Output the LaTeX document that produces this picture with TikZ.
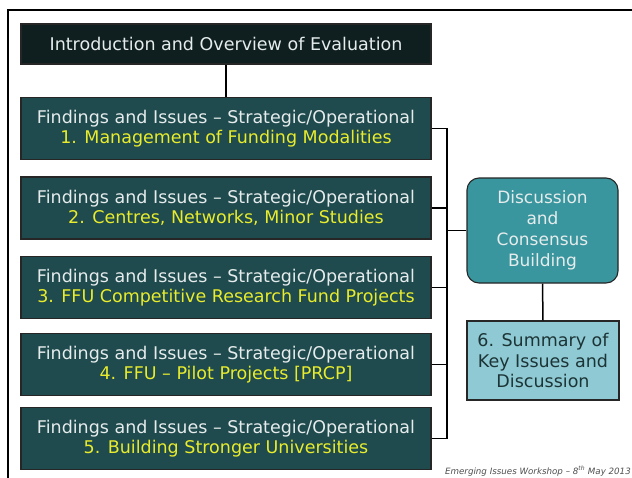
\documentclass[tikz,border=0pt]{standalone}
\usepackage{fontspec}
\setmainfont{DejaVu Sans}
\definecolor{introfill}{HTML}{0F1F20}
\definecolor{boxfill}{HTML}{1F4A4E}
\definecolor{discfill}{HTML}{3A969E}
\definecolor{sumfill}{HTML}{8FCAD4}
\definecolor{whitetext}{HTML}{E6ECEC}
\definecolor{yellowtext}{HTML}{E8EC2C}
\definecolor{sumtext}{HTML}{1C3436}
\definecolor{foot}{HTML}{505050}
\tikzset{
  darkbox/.style={draw=black!85, line width=1.1pt, fill=boxfill, minimum width=410pt, inner sep=0pt, align=center, text=whitetext, font=\fontsize{17.5}{20.5}\selectfont},
  introbox/.style={darkbox, fill=introfill, minimum height=40pt},
  findbox/.style={darkbox, minimum height=62pt},
  discbox/.style={draw=black!85, line width=1.1pt, fill=discfill, rounded corners=12pt, minimum width=151pt, minimum height=105pt, inner sep=0pt, align=center, text=whitetext, font=\fontsize{17}{21}\selectfont},
  sumbox/.style={draw=black!85, line width=1.1pt, fill=sumfill, minimum width=152pt, minimum height=79pt, inner sep=0pt, align=center, text=sumtext, font=\fontsize{17.5}{20.5}\selectfont},
  link/.style={draw=black, line width=1.5pt},
  frameline/.style={draw=black, line width=1.3pt},
}
\newcommand{\findtxt}[1]{Findings and Issues -- Strategic/Operational\\\textcolor{yellowtext}{#1}}
\begin{document}
\begin{tikzpicture}[x=1pt,y=-1pt]
\useasboundingbox (0,0) rectangle (632,477);
\fill[white] (0,0) rectangle (632,477);
\coordinate (fc) at (8,10);
\coordinate (fr) at (633,10);
\coordinate (fb) at (8,478);
\draw[frameline] (fr) -- (fc) -- (fb);
\node[introbox] (intro) at (226,44) {Introduction and Overview of Evaluation};
\node[findbox] (b1) at (226,128.5) {\findtxt{1. Management of Funding Modalities}};
\node[findbox] (b2) at (226,208) {\findtxt{2. Centres, Networks, Minor Studies}};
\node[findbox] (b3) at (226,287.5) {\findtxt{3. FFU Competitive Research Fund Projects}};
\node[findbox] (b4) at (226,364.5) {\findtxt{4. FFU -- Pilot Projects [PRCP]}};
\node[findbox] (b5) at (226,438.5) {\findtxt{5. Building Stronger Universities}};
\node[discbox] (disc) at (542.5,230.5) {Discussion\\and\\Consensus\\Building};
\node[sumbox] (sum) at (543,360.5) {6. Summary of\\Key Issues and\\Discussion};
\coordinate (bx) at (447,0);
\draw[link] (intro.south) -- (b1.north);
\draw[link] (b1.east) -- (b1.east -| bx) -- (b5.east -| bx) -- (b5.east);
\draw[link] (b2.east) -- (b2.east -| bx);
\draw[link] (b3.east) -- (b3.east -| bx);
\draw[link] (b4.east) -- (b4.east -| bx);
\draw[link] (disc.west) -- (disc.west -| bx);
\draw[link] (disc.south) -- (sum.north);
\node[anchor=east, text=foot, font=\itshape\fontsize{8.7}{10}\selectfont, inner sep=0pt] (footer) at (631,471) {Emerging Issues Workshop -- 8\textsuperscript{th} May 2013};
\end{tikzpicture}
\end{document}
